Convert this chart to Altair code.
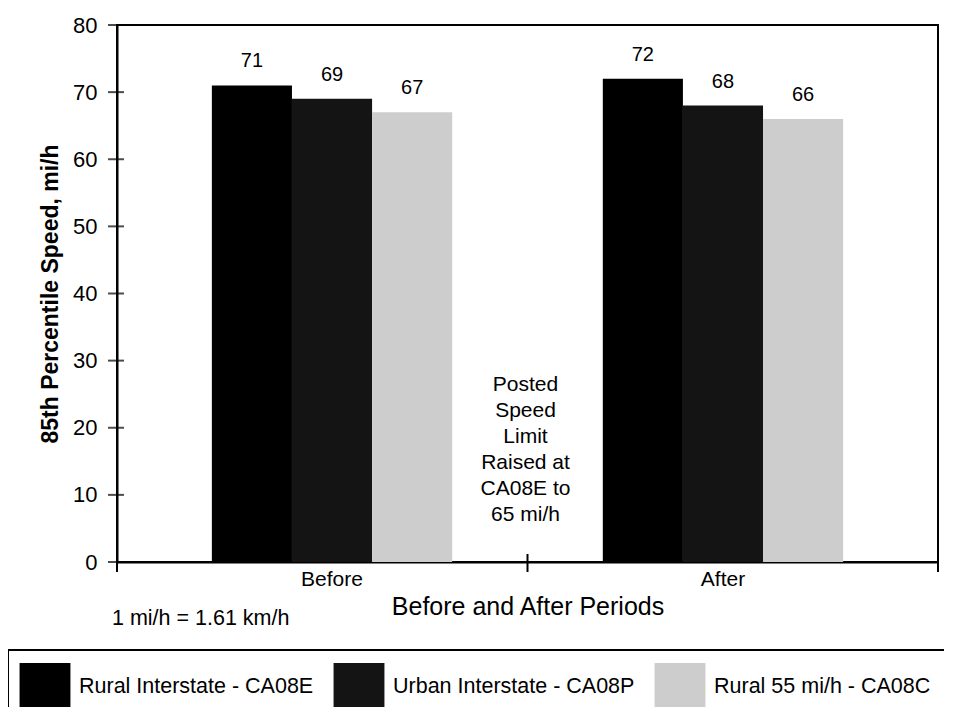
import altair as alt
import pandas as pd

# ---- data ----
periods = ["Before", "After"]
series = ["Rural Interstate - CA08E", "Urban Interstate - CA08P", "Rural 55 mi/h - CA08C"]
before_vals = [71, 69, 67]
after_vals = [72, 68, 66]
y_ticks = [0, 10, 20, 30, 40, 50, 60, 70, 80]
note_lines = ["Posted", "Speed", "Limit", "Raised at", "CA08E to", "65 mi/h"]
unit_note = "1 mi/h = 1.61 km/h"
x_title = "Before and After Periods"
y_title = "85th Percentile Speed, mi/h"

colors = ["#000000", "#141414", "#cdcdcd"]
FONT = "Liberation Sans"
W, H = 821, 537

rows = []
for p, vals in zip(periods, [before_vals, after_vals]):
    for s, v in zip(series, vals):
        rows.append({"period": p, "series": s, "speed": v})
df = pd.DataFrame(rows)

x_enc = alt.X(
    "period:N", sort=periods,
    scale=alt.Scale(paddingInner=0, paddingOuter=0.05),
    axis=alt.Axis(title=x_title, ticks=False, domainColor="black", domainWidth=2,
                  labelAngle=0, labelFontSize=21, labelPadding=6, labelColor="black",
                  titleFontSize=25, titleFontWeight="normal", titlePadding=5,
                  titleColor="black", grid=False),
)
y_enc = alt.Y(
    "speed:Q",
    scale=alt.Scale(domain=[0, 80], nice=False, zero=True),
    axis=alt.Axis(values=y_ticks, ticks=False, domainColor="black", domainWidth=2,
                  labelFontSize=22, labelPadding=20, labelColor="black",
                  title=y_title, titleFontSize=23, titleFontWeight="bold",
                  titlePadding=10, titleColor="black", grid=False),
)
xoff = alt.XOffset("series:N", sort=series,
                   scale=alt.Scale(paddingInner=0, paddingOuter=0.94))

bars = alt.Chart(df).mark_bar(opacity=1).encode(
    x=x_enc, y=y_enc, xOffset=xoff,
    color=alt.Color(
        "series:N", sort=series,
        scale=alt.Scale(domain=series, range=colors),
        legend=alt.Legend(orient="none", legendX=-96, legendY=638, direction="horizontal",
                          title=None, symbolType="M-1.06,-1H1.06V1H-1.06Z",
                          symbolSize=2304,
                          symbolStrokeWidth=0, symbolOpacity=1, labelFontSize=21.5,
                          labelColor="black", labelOffset=10, columnPadding=19,
                          labelLimit=400, padding=0),
    ),
)

labels = alt.Chart(df).mark_text(dy=-24, baseline="middle", fontSize=20,
                                  color="black").encode(
    x=x_enc, y=y_enc, xOffset=xoff, text="speed:Q"
)

yticks = alt.Chart(pd.DataFrame({"speed": y_ticks})).mark_tick(
    color="black", thickness=2, size=16).encode(y=y_enc, x=alt.value(-1))

one = pd.DataFrame({"k": [0]})
xticks = [
    alt.Chart(one).mark_rule(color="black", strokeWidth=2).encode(
        x=alt.value(px), y=alt.value(H - 8), y2=alt.value(H + 10))
    for px in [0, W / 2, W]
]

note = alt.Chart(pd.DataFrame({"t": [note_lines]})).mark_text(
    align="center", baseline="top", fontSize=21, lineHeight=26, color="black"
).encode(x=alt.value(W / 2 - 2), y=alt.value(349), text="t")

unit = alt.Chart(pd.DataFrame({"t": [unit_note]})).mark_text(
    align="left", baseline="middle", fontSize=21.5, color="black"
).encode(x=alt.value(-5), y=alt.value(594), text="t")

# frame of the legend (only its top and left edges fall inside the page)
legend_top = alt.Chart(one).mark_rule(color="black", strokeWidth=2).encode(
    x=alt.value(-109), x2=alt.value(W + 6), y=alt.value(625))
legend_left = alt.Chart(one).mark_rule(color="black", strokeWidth=2).encode(
    x=alt.value(-109), y=alt.value(625), y2=alt.value(H + 160))

chart = alt.layer(
    legend_top, legend_left, bars, labels, yticks, *xticks, note, unit
).properties(
    width=W, height=H,
    autosize=alt.AutoSizeParams(type="none"),
    padding={"left": 109, "top": 17, "right": 7, "bottom": 145},
).configure(
    font=FONT,
).configure_view(
    stroke="black", strokeWidth=2
).configure_axis(
    labelFont=FONT, titleFont=FONT
).configure_legend(
    labelFont=FONT
)

chart.save("out.html", embed_options={"renderer": "svg", "actions": False})
